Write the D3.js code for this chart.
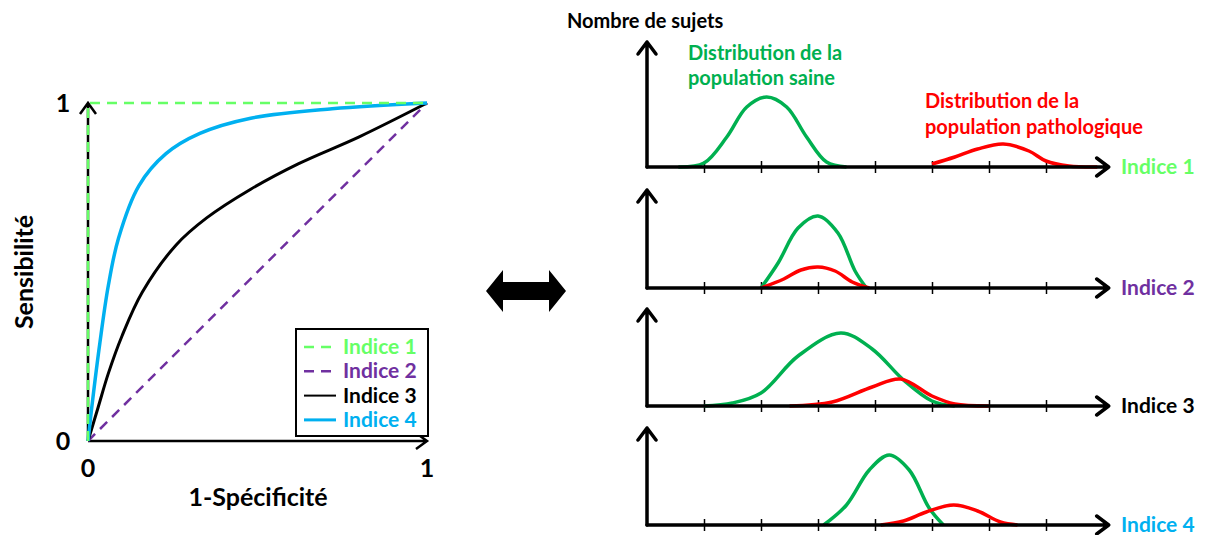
<!DOCTYPE html>
<html>
<head>
<meta charset="utf-8">
<script src="https://cdn.jsdelivr.net/npm/d3@7"></script>
<style>
  body { margin: 0; background: #fff; }
  svg text { font-family: Lato, "Open Sans", sans-serif; font-weight: bold; }
</style>
</head>
<body>
<div id="chart"></div>
<script>
// ROC curves (x = 1-specificite, y = sensibilite)
var rocIndice1 = [[0, 0], [0, 1], [1, 1]];
var rocIndice2 = [[0, 0], [1, 1]];
var rocIndice3 = [[0, 0], [0.03, 0.1], [0.06, 0.2], [0.1, 0.31], [0.16, 0.44], [0.26, 0.58], [0.35, 0.66], [0.48, 0.745], [0.62, 0.82], [0.8, 0.9], [1, 1]];
var rocIndice4 = [[0, 0], [0.01, 0.09], [0.035, 0.29], [0.06, 0.46], [0.09, 0.6], [0.15, 0.755], [0.23, 0.85], [0.33, 0.91], [0.48, 0.955], [0.72, 0.983], [1, 1]];
var rocTickLabels = ["0", "1"];
var legendLabels = ["Indice 1", "Indice 2", "Indice 3", "Indice 4"];

// distributions (x = valeur de l'indice en graduations, y = nombre de sujets)
var axisTicks = [1, 2, 3, 4, 5, 6, 7];
var panelLabels = ["Indice 1", "Indice 2", "Indice 3", "Indice 4"];
var sain1 = [[0.55, 0], [1.0, 4], [1.4, 30], [1.75, 60], [2.1, 70], [2.45, 60], [2.8, 30], [3.15, 5], [3.5, 0]];
var patho1 = [[5.0, 3], [5.4, 10], [5.8, 18], [6.25, 23], [6.7, 16], [7.0, 6], [7.4, 1], [7.9, 0]];
var sain2 = [[2.0, 0], [2.3, 25], [2.65, 60], [3.0, 72], [3.35, 55], [3.65, 17], [3.85, 0]];
var patho2 = [[2.0, 0], [2.4, 9], [2.7, 18], [3.0, 21], [3.3, 17], [3.6, 6], [3.9, 0]];
var sain3 = [[1.0, 0], [1.5, 3], [2.0, 13], [2.65, 50], [3.4, 73], [3.95, 57], [4.5, 26], [5.0, 5], [5.4, 0]];
var patho3 = [[2.5, 0], [3.25, 4], [3.95, 19], [4.45, 27], [5.0, 10], [5.4, 2], [6.0, 0]];
var sain4 = [[3.1, 0], [3.5, 20], [3.9, 55], [4.25, 70], [4.6, 55], [4.95, 17], [5.2, 0]];
var patho4 = [[4.1, 0], [4.5, 4], [4.9, 13], [5.38, 20], [5.8, 14], [6.2, 3], [6.5, 0]];

var rocColors = ["#66ff66", "#7030a0", "#000000", "#00b0f0"];
var colSain = "#00b050", colPatho = "#ff0000";

var svg = d3.select("#chart").append("svg")
  .attr("width", 1209)
  .attr("height", 535);

// ---------- left: ROC ----------
var x = d3.scaleLinear().domain([0, 1]).range([88, 427]);
var y = d3.scaleLinear().domain([0, 1]).range([441, 103]);

var roc = svg.append("g");

// axes with open arrow heads
roc.append("path")
  .attr("d", "M" + x(0) + "," + y(0) + "V" + y(1) + "M" + (x(0) - 8) + "," + (y(1) + 11) + "L" + x(0) + "," + y(1) + "L" + (x(0) + 8) + "," + (y(1) + 11))
  .attr("fill", "none").attr("stroke", "#000").attr("stroke-width", 2.5);
roc.append("path")
  .attr("d", "M" + x(0) + "," + y(0) + "H" + x(1) + "M" + (x(1) - 11) + "," + (y(0) - 8) + "L" + x(1) + "," + y(0) + "L" + (x(1) - 11) + "," + (y(0) + 8))
  .attr("fill", "none").attr("stroke", "#000").attr("stroke-width", 2.5);

var line = d3.line().x(function (d) { return x(d[0]); }).y(function (d) { return y(d[1]); });
var smooth = d3.line().x(function (d) { return x(d[0]); }).y(function (d) { return y(d[1]); }).curve(d3.curveCatmullRom.alpha(0.5));

roc.append("path").datum(rocIndice2).attr("d", line)
  .attr("fill", "none").attr("stroke", rocColors[1]).attr("stroke-width", 2.5).attr("stroke-dasharray", "10,7");
roc.append("path").datum(rocIndice3).attr("d", smooth)
  .attr("fill", "none").attr("stroke", rocColors[2]).attr("stroke-width", 3);
roc.append("path").datum(rocIndice4).attr("d", smooth)
  .attr("fill", "none").attr("stroke", rocColors[3]).attr("stroke-width", 3.5);
roc.append("path").datum(rocIndice1).attr("d", line)
  .attr("fill", "none").attr("stroke", rocColors[0]).attr("stroke-width", 2.5).attr("stroke-dasharray", "10,7");

// tick labels
roc.selectAll(".ytick").data(rocTickLabels).enter().append("text")
  .attr("x", 63).attr("y", function (d) { return y(+d) + 9; })
  .attr("text-anchor", "middle").attr("font-size", 25).text(function (d) { return d; });
roc.selectAll(".xtick").data(rocTickLabels).enter().append("text")
  .attr("x", function (d) { return x(+d); }).attr("y", 477)
  .attr("text-anchor", "middle").attr("font-size", 25).text(function (d) { return d; });

roc.append("text").attr("x", 258).attr("y", 506).attr("text-anchor", "middle")
  .attr("font-size", 25).text("1-Spécificité");
roc.append("text").attr("transform", "translate(33,272) rotate(-90)").attr("text-anchor", "middle")
  .attr("font-size", 25).text("Sensibilité");

// legend
var leg = roc.append("g");
leg.append("rect").attr("x", 296).attr("y", 329).attr("width", 132).attr("height", 107)
  .attr("fill", "#fff").attr("stroke", "#000").attr("stroke-width", 2);
var dashes = ["10,7", "10,7", null, null];
var widths = [2.5, 2.5, 2, 3];
legendLabels.forEach(function (lab, i) {
  var ly = 347 + i * 24.3;
  leg.append("line").attr("x1", 304).attr("x2", 336).attr("y1", ly).attr("y2", ly)
    .attr("stroke", rocColors[i]).attr("stroke-width", widths[i]).attr("stroke-dasharray", dashes[i]);
  leg.append("text").attr("x", 343).attr("y", ly + 7).attr("font-size", 21)
    .attr("fill", rocColors[i]).text(lab);
});

// ---------- middle double arrow ----------
svg.append("path")
  .attr("d", "M486,291 L503,270 L503,282 L549,282 L549,270 L566,291 L549,312 L549,300 L503,300 L503,312 Z")
  .attr("fill", "#000");

// ---------- right: distributions ----------
var xr = d3.scaleLinear().domain([0, 8.1]).range([647, 647 + 8.1 * 57]);
var baselines = [167, 288, 406, 525];
var tops = [42, 190, 309, 428];
var sains = [sain1, sain2, sain3, sain4];
var pathos = [patho1, patho2, patho3, patho4];

baselines.forEach(function (b, i) {
  var yr = d3.scaleLinear().domain([0, 100]).range([b, b - 100]);
  var g = svg.append("g");
  var ax = g.append("g").attr("transform", "translate(0," + b + ")")
    .call(d3.axisBottom(xr).tickValues(axisTicks).tickSize(6).tickFormat(""));
  ax.select(".domain").remove();
  ax.selectAll(".tick line").attr("y1", -6).attr("y2", 6).attr("stroke", "#000").attr("stroke-width", 1.5);

  var curve = d3.line().x(function (d) { return xr(d[0]); }).y(function (d) { return yr(d[1]); }).curve(d3.curveCatmullRom.alpha(0.5));
  g.append("path").datum(sains[i]).attr("d", curve)
    .attr("fill", "none").attr("stroke", colSain).attr("stroke-width", 3.5);
  g.append("path").datum(pathos[i]).attr("d", curve)
    .attr("fill", "none").attr("stroke", colPatho).attr("stroke-width", 3.5);

  var x0 = xr(0), x1 = xr(8.1);
  g.append("path")
    .attr("d", "M" + x0 + "," + b + "V" + tops[i] + "M" + (x0 - 9) + "," + (tops[i] + 12) + "L" + x0 + "," + tops[i] + "L" + (x0 + 9) + "," + (tops[i] + 12))
    .attr("fill", "none").attr("stroke", "#000").attr("stroke-width", 3.5).attr("stroke-linecap", "round").attr("stroke-linejoin", "round");
  g.append("path")
    .attr("d", "M" + x0 + "," + b + "H" + x1 + "M" + (x1 - 12) + "," + (b - 9) + "L" + x1 + "," + b + "L" + (x1 - 12) + "," + (b + 9))
    .attr("fill", "none").attr("stroke", "#000").attr("stroke-width", 3.5).attr("stroke-linecap", "round").attr("stroke-linejoin", "round");

  g.append("text").attr("x", 1121).attr("y", b + 7).attr("font-size", 21)
    .attr("fill", rocColors[i]).text(panelLabels[i]);
});

svg.append("text").attr("x", 567).attr("y", 28).attr("font-size", 20).text("Nombre de sujets");

var annSain = svg.append("text").attr("font-size", 20).attr("fill", colSain);
annSain.append("tspan").attr("x", 688).attr("y", 60).text("Distribution de la");
annSain.append("tspan").attr("x", 688).attr("y", 85).text("population saine");
var annPatho = svg.append("text").attr("font-size", 20).attr("fill", colPatho);
annPatho.append("tspan").attr("x", 925).attr("y", 108).text("Distribution de la");
annPatho.append("tspan").attr("x", 925).attr("y", 134).text("population pathologique");
</script>
</body>
</html>
